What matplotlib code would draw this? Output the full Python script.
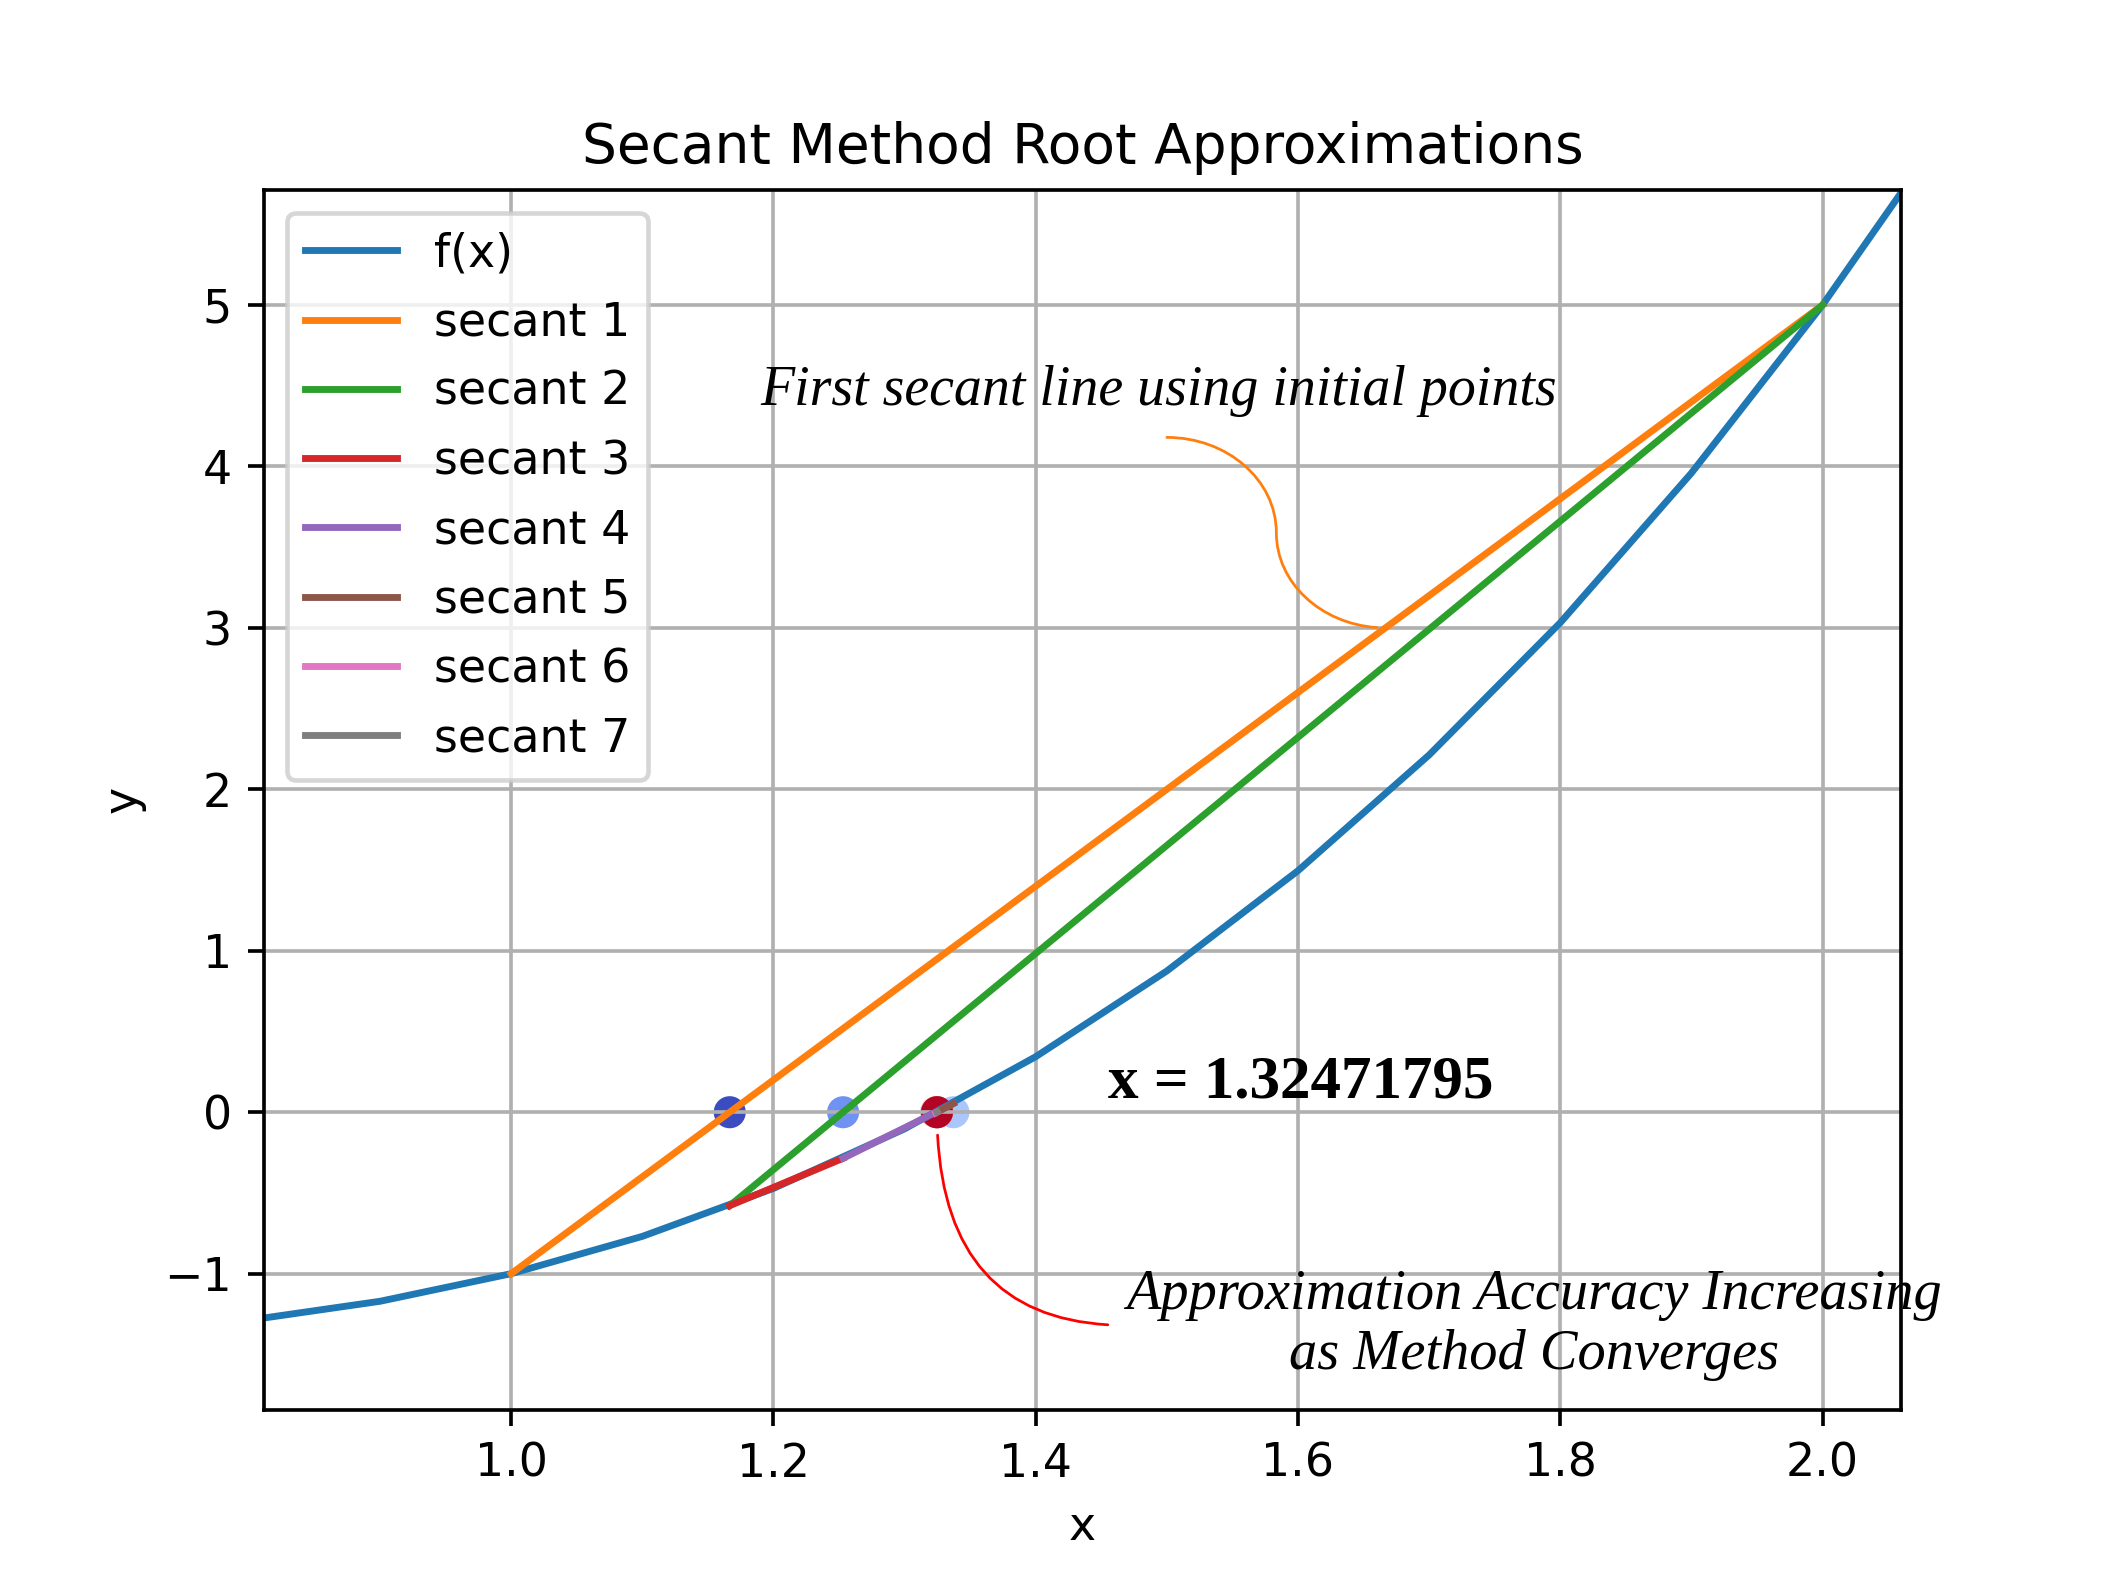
import matplotlib
matplotlib.use("Agg")
import matplotlib.pyplot as plt
import numpy as np
from matplotlib.patches import ConnectionStyle
from matplotlib.path import Path

# f(x) sampled curve
x_vals = [0.8, 0.9, 1.0, 1.1, 1.2, 1.3, 1.4, 1.5, 1.6, 1.7, 1.8, 1.9, 2.0, 2.1]
f_vals = [-1.288, -1.171, -1.0, -0.769, -0.472, -0.103, 0.344, 0.875, 1.496,
          2.213, 3.032, 3.959, 5.0, 6.161]

# secant iterates (x_n, f(x_n))
iter_x = [1.0, 2.0, 1.166667, 1.253112, 1.337206, 1.323849, 1.324708, 1.324718, 1.3247180]
iter_y = [-1.0, 5.0, -0.578704, -0.285363, 0.053882, -0.003703, -0.000043, 0.0, 0.0]
root = 1.32471795


class SCurve(ConnectionStyle._Base):
    # two quarter arcs: horizontal -> vertical -> horizontal
    def connect(self, posA, posB):
        (x1, y1), (x2, y2) = posA, posB
        xm, ym = (x1 + x2) / 2, (y1 + y2) / 2
        k = 0.5523
        verts = [(x1, y1),
                 (x1 + k * (xm - x1), y1), (xm, ym + k * (y1 - ym)), (xm, ym),
                 (xm, ym + k * (y2 - ym)), (x2 - k * (x2 - xm), y2), (x2, y2)]
        codes = [Path.MOVETO] + [Path.CURVE4] * 6
        return Path(verts, codes)


fig, ax = plt.subplots(figsize=(6.4, 4.8), dpi=330)

# approximations on the x-axis
ax.scatter(iter_x[2:], np.zeros(len(iter_x) - 2), c=np.arange(len(iter_x) - 2), cmap='coolwarm')

ax.plot(x_vals, f_vals, label='f(x)')
for i in range(len(iter_x) - 2):
    ax.plot(iter_x[i:i + 2], iter_y[i:i + 2], label=f'secant {i + 1}')

serif = 'Liberation Serif'
ax.text(1.19, 4.38, 'First secant line using initial points', fontsize=12.2,
        style='italic', family=serif)
ax.annotate('', xy=(1.667, 3.0), xytext=(1.50, 4.18),
            arrowprops=dict(arrowstyle='-', connectionstyle=SCurve(), color='C1',
                            lw=0.6, shrinkA=0))

ax.text(1.455, 0.09, f'x = {root:.8f}', fontsize=13.3, fontweight='bold', family=serif)

ax.annotate('Approximation Accuracy Increasing\nas Method Converges',
            xy=(root, 0), xytext=(1.78, -1.32), ha='center', va='center',
            fontsize=12.3, style='italic', family=serif,
            arrowprops=dict(arrowstyle='-', color='red', lw=0.6, relpos=(0, 0.5),
                            connectionstyle='angle3,angleA=0,angleB=90', shrinkB=5))

ax.set_xlim(0.8115, 2.0597)
ax.set_ylim(-1.843, 5.712)
ax.set_xlabel('x')
ax.set_ylabel('y')
ax.set_title('Secant Method Root Approximations')
ax.legend(loc='upper left', labelspacing=0.53)
ax.grid(True)
fig.savefig('out.png')
